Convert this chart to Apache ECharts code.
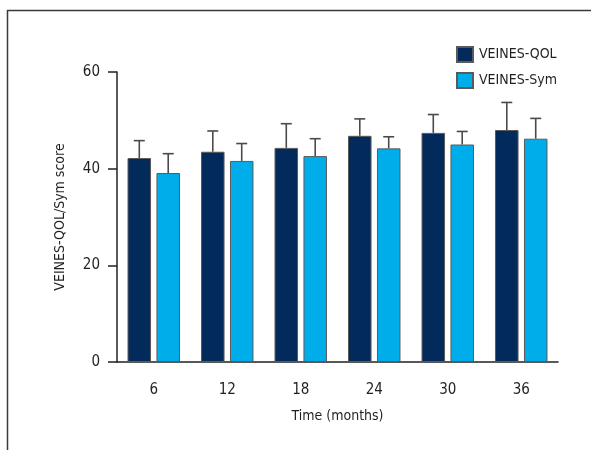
<!DOCTYPE html>
<html>
<head>
<meta charset="utf-8">
<script src="https://cdn.jsdelivr.net/npm/echarts@6/dist/echarts.min.js"></script>
<style>
html,body{margin:0;padding:0;background:#fff;}
#main{width:591px;height:450px;}
</style>
</head>
<body>
<div id="main"></div>
<script>
var categories = ['6', '12', '18', '24', '30', '36'];
var qolMean = [42.2, 43.5, 44.3, 46.8, 47.4, 48.0];
var qolUpper = [45.8, 47.8, 49.3, 50.3, 51.2, 53.7];
var symMean = [39.1, 41.6, 42.6, 44.2, 45.0, 46.2];
var symUpper = [43.1, 45.2, 46.2, 46.6, 47.7, 50.4];
var yTicks = [0, 20, 40, 60];

var FONT = '"Liberation Sans Narrow","DejaVu Sans Condensed","Roboto Condensed",sans-serif';
var TXT = '#231f20';
var BAR_W = 0.32, BAR_GAP = 0.23;

function errSeries(name, means, uppers, side) {
  var data = means.map(function (m, i) { return [i, m, uppers[i]]; });
  return {
    type: 'custom',
    name: name + ' err',
    z: 1,
    silent: true,
    data: data,
    renderItem: function (params, api) {
      var i = api.value(0);
      var band = api.size([1, 0])[0];
      var bw = band * BAR_W;
      var off = (bw + bw * BAR_GAP) / 2 * side;
      var p0 = api.coord([i, api.value(1)]);
      var p1 = api.coord([i, api.value(2)]);
      var x = p0[0] + off;
      var cap = 5.5;
      return {
        type: 'group',
        children: [
          { type: 'line', shape: { x1: x, y1: p0[1], x2: x, y2: p1[1] }, style: { stroke: '#4a4a4a', lineWidth: 1.6 } },
          { type: 'line', shape: { x1: x - cap, y1: p1[1], x2: x + cap, y2: p1[1] }, style: { stroke: '#4a4a4a', lineWidth: 1.6 } }
        ]
      };
    }
  };
}

var chart = echarts.init(document.getElementById('main'), null, { renderer: 'canvas' });
chart.setOption({
  animation: false,
  backgroundColor: '#fff',
  textStyle: { fontFamily: FONT, color: TXT },
  graphic: [
    { type: 'polyline', shape: { points: [[7.5, 450], [7.5, 10.5], [591, 10.5]] }, style: { stroke: '#3a3a3a', lineWidth: 1.5, fill: null } }
  ],
  legend: {
    orient: 'vertical',
    left: 451,
    top: 41,
    itemWidth: 16,
    itemHeight: 15,
    itemGap: 9,
    icon: 'rect',
    textStyle: { fontFamily: FONT, fontSize: 14, color: TXT, padding: [0, 0, 0, 1] },
    data: ['VEINES-QOL', 'VEINES-Sym']
  },
  grid: { left: 117, right: 33, top: 72, bottom: 88 },
  xAxis: {
    type: 'category',
    data: categories,
    name: 'Time (months)',
    nameLocation: 'middle',
    nameGap: 47,
    nameTextStyle: { fontFamily: FONT, fontSize: 14, color: TXT },
    axisLine: { lineStyle: { color: '#222', width: 1.5 } },
    axisTick: { alignWithLabel: true, length: 6, lineStyle: { color: '#222', width: 1.5 } },
    axisLabel: { margin: 21, fontFamily: FONT, fontSize: 15, color: TXT }
  },
  yAxis: {
    type: 'value',
    min: yTicks[0],
    max: yTicks[yTicks.length - 1],
    interval: yTicks[1] - yTicks[0],
    name: 'VEINES-QOL/Sym score',
    nameLocation: 'middle',
    nameGap: 50,
    nameRotate: 90,
    nameTextStyle: { fontFamily: FONT, fontSize: 14, color: TXT },
    splitLine: { show: false },
    axisLine: { show: true, lineStyle: { color: '#222', width: 1.5 } },
    axisTick: { show: true, length: 9, lineStyle: { color: '#222', width: 1.5 } },
    axisLabel: { margin: 17, fontFamily: FONT, fontSize: 15, color: TXT }
  },
  series: [
    {
      name: 'VEINES-QOL', type: 'bar', data: qolMean, z: 2,
      barWidth: (BAR_W * 100) + '%', barGap: (BAR_GAP * 100) + '%',
      itemStyle: { color: '#022a5b', borderColor: '#5a5a5a', borderWidth: 1 }
    },
    {
      name: 'VEINES-Sym', type: 'bar', data: symMean, z: 2,
      barWidth: (BAR_W * 100) + '%', barGap: (BAR_GAP * 100) + '%',
      itemStyle: { color: '#00adeb', borderColor: '#5a5a5a', borderWidth: 1 }
    },
    errSeries('VEINES-QOL', qolMean, qolUpper, -1),
    errSeries('VEINES-Sym', symMean, symUpper, 1)
  ]
});
</script>
</body>
</html>
